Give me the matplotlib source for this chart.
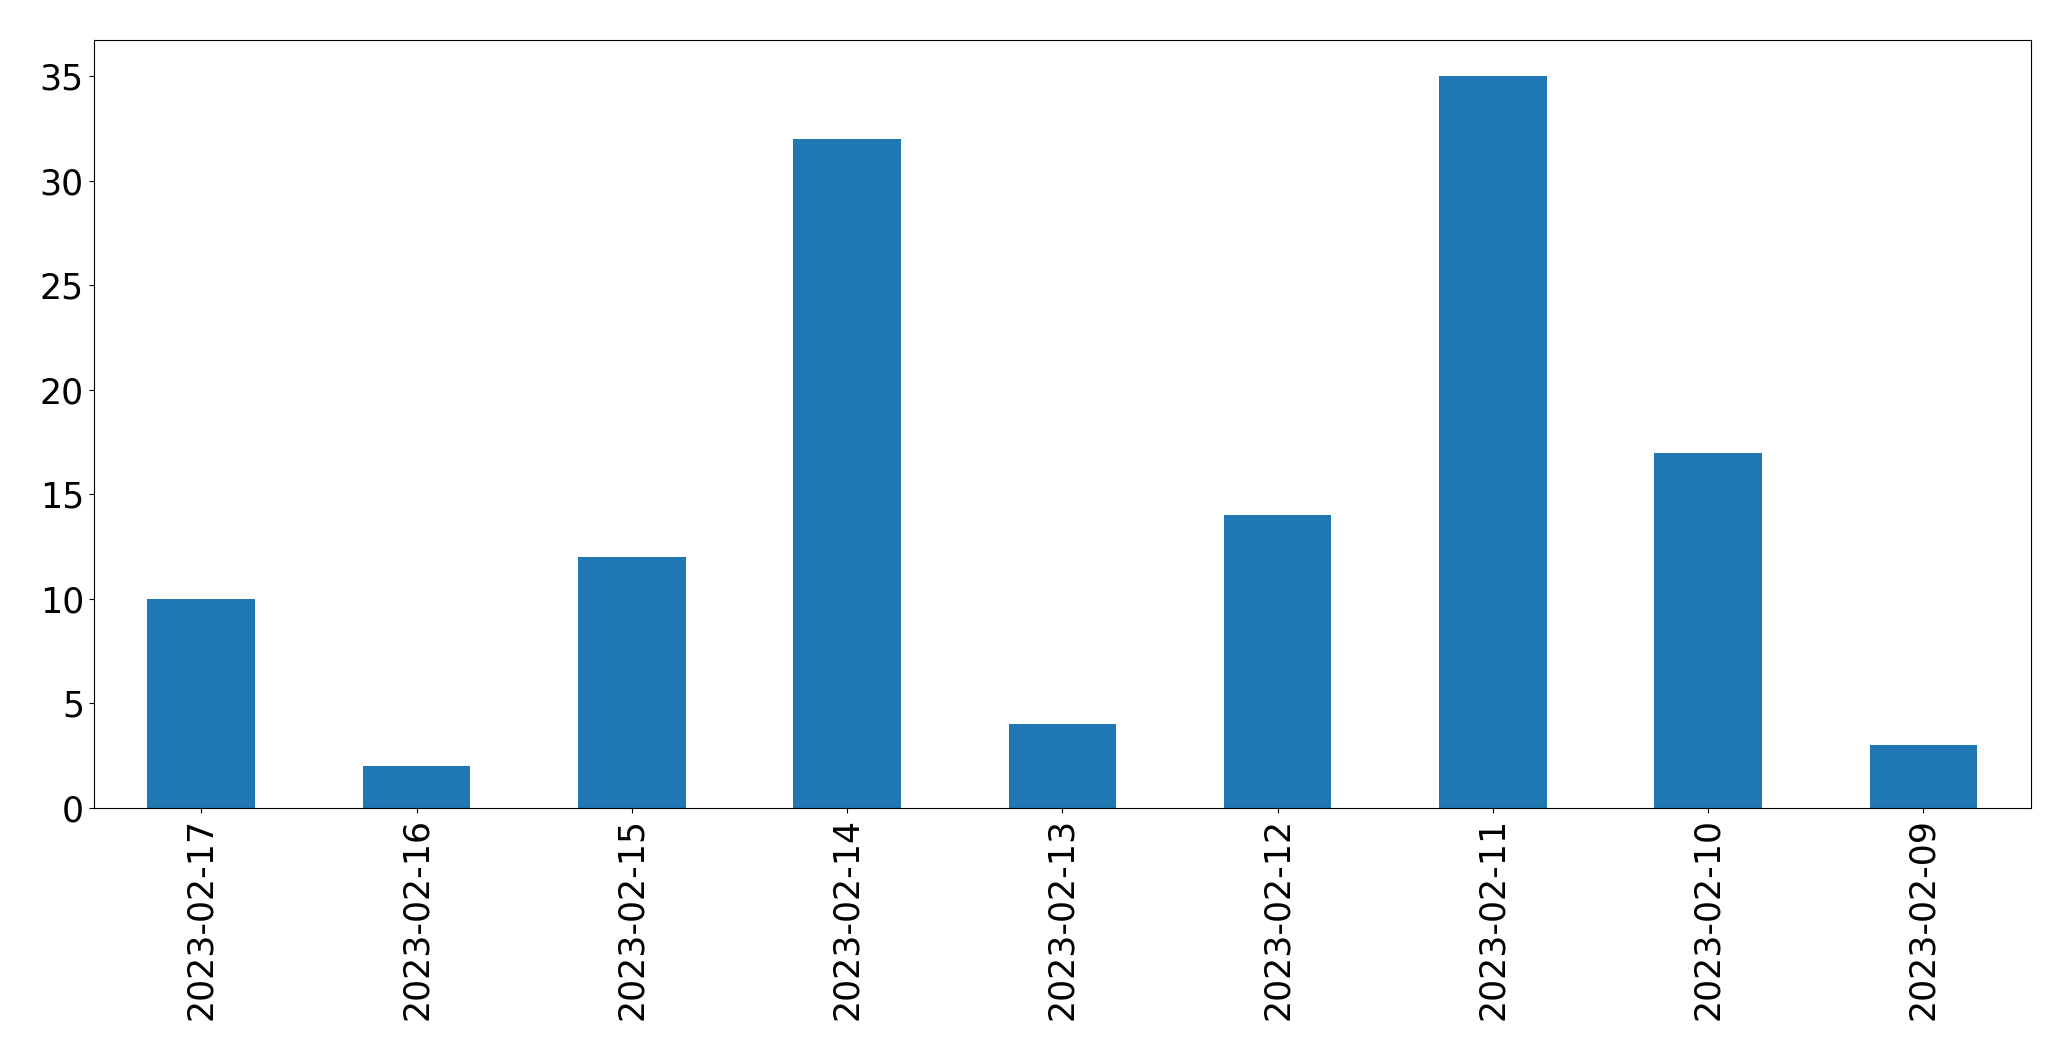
import matplotlib
matplotlib.use("Agg")
import matplotlib.pyplot as plt
import pandas as pd

# bar counts per day
dates = ["2023-02-17", "2023-02-16", "2023-02-15", "2023-02-14", "2023-02-13",
         "2023-02-12", "2023-02-11", "2023-02-10", "2023-02-09"]
counts = [10, 2, 12, 32, 4, 14, 35, 17, 3]

s = pd.Series(counts, index=dates)

fig = plt.figure(figsize=(20.71, 10.61), dpi=100)
ax = fig.add_axes([0.0452, 0.2385, 0.9355, 0.724])
s.plot(kind="bar", ax=ax, color="#1f77b4")
ax.tick_params(axis="both", labelsize=25)
ax.set_ylim(0, 36.75)

fig.savefig("out.png", dpi=100)
